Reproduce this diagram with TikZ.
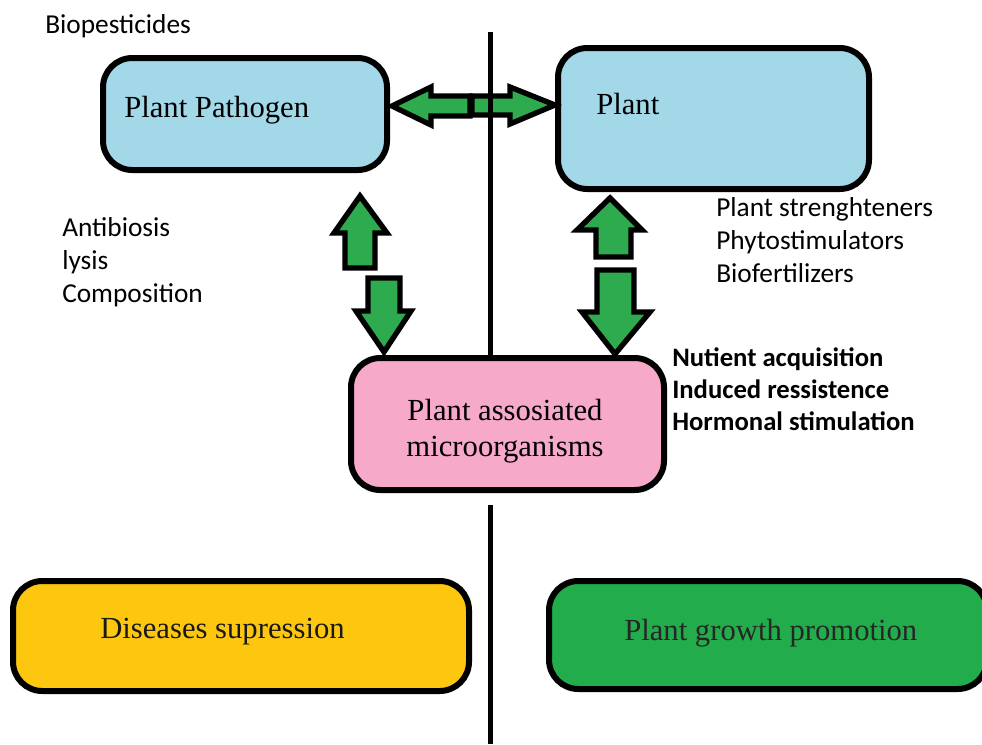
\documentclass[tikz,border=0pt]{standalone}
\usepackage{fontspec}
\setmainfont{Liberation Serif}
\newfontfamily\sansf{Carlito}
\definecolor{pathblue}{HTML}{A3D8E8}
\definecolor{micropink}{HTML}{F7A9C9}
\definecolor{disyellow}{HTML}{FEC70F}
\definecolor{growgreen}{HTML}{22AC4B}
\definecolor{arrgreen}{HTML}{2DAB4E}
\begin{document}
\begin{tikzpicture}[x=0.75pt,y=-0.75pt,
  box/.style={draw=black, line width=4.5pt, rounded corners=22pt, inner sep=0pt},
  boxtext/.style={font=\fontsize{23}{26.5}\selectfont, align=center, inner sep=0pt},
  sidetext/.style={font=\sansf\fontsize{20.5}{24.8}\selectfont, align=left, inner sep=0pt, anchor=west},
  blockarrow/.style={draw=black, fill=arrgreen, line width=4pt, line join=miter},
  divider/.style={draw=black, line width=3.75pt}]
\useasboundingbox (0,0) rectangle (982,744);

% boxes
\node[box, fill=pathblue, minimum width=284*0.75pt, minimum height=112*0.75pt] (path) at (245,114) {};
\node[box, fill=pathblue, minimum width=311*0.75pt, minimum height=141*0.75pt] (plant) at (713.5,118.5) {};
\node[box, fill=micropink, minimum width=313*0.75pt, minimum height=132*0.75pt] (micro) at (507.5,424) {};
\node[box, fill=disyellow, minimum width=456*0.75pt, minimum height=110*0.75pt] (dis) at (241,636) {};
\node[box, fill=growgreen, minimum width=438*0.75pt, minimum height=108*0.75pt] (grow) at (768,635) {};

% box texts
\node[boxtext, anchor=west] (pathtxt) at (124,110) {Plant Pathogen};
\node[boxtext, anchor=west] (planttxt) at (596,104) {Plant};
\node[boxtext] (microtxt) at (505,431) {Plant assosiated\\microorganisms};
\node[boxtext, anchor=west, text=black!90] (distxt) at (100,632) {Diseases supression};
\node[boxtext, anchor=west, text=black!85] (growtxt) at (624,633) {Plant growth promotion};

% side texts
\node[sidetext] (bio) at (45,26) {Biopesticides};
\node[sidetext] (anti) at (62,262) {Antibiosis\\lysis\\Composition};
\node[sidetext] (strength) at (716,240) {Plant strenghteners\\Phytostimulators\\Biofertilizers};
\node[sidetext, font=\sansf\bfseries\fontsize{20}{24}\selectfont] (mech) at (672,389) {Nutient acquisition\\Induced ressistence\\Hormonal stimulation};

% block arrows
\draw[blockarrow] (392,106) -- (431,87) -- (431,96) -- (470,96) -- (470,116) -- (431,116) -- (431,125) -- cycle;
\draw[blockarrow] (555,105) -- (510,87) -- (510,96) -- (472,96) -- (472,115) -- (510,115) -- (510,124) -- cycle;
\draw[blockarrow] (360,196) -- (387,233) -- (375,233) -- (375,268) -- (345,268) -- (345,233) -- (334,233) -- cycle;
\draw[blockarrow] (384,352) -- (411,311) -- (400,311) -- (400,278) -- (368,278) -- (368,311) -- (356,311) -- cycle;
\draw[blockarrow] (610,198) -- (642,230) -- (631,230) -- (631,257) -- (596,257) -- (596,230) -- (577,230) -- cycle;
\draw[blockarrow] (615,354) -- (650,312) -- (634,312) -- (634,270) -- (597,270) -- (597,312) -- (582,312) -- cycle;

% dividing line
\coordinate (ltop) at (490,32);
\coordinate (lmid) at (490,357);
\coordinate (lbot) at (490,505);
\coordinate (lend) at (490,744);
\draw[divider] (ltop) -- (lmid);
\draw[divider] (lbot) -- (lend);
\end{tikzpicture}
\end{document}
